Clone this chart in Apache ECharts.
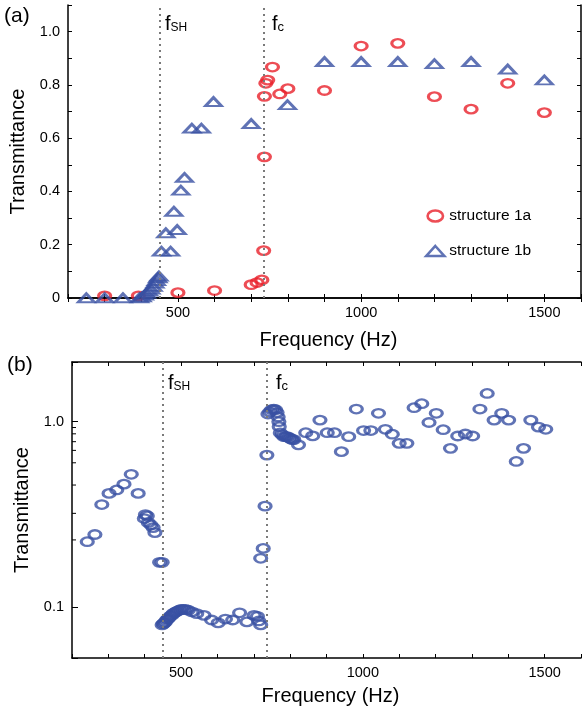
<!DOCTYPE html>
<html><head><meta charset="utf-8">
<script src="https://cdn.jsdelivr.net/npm/echarts@6/dist/echarts.min.js"></script>
<style>html,body{margin:0;padding:0;background:#fff}#c{width:584px;height:710px}</style>
</head><body><div id="c"></div>
<script>
// ---- data ----
const freqA  = [300, 392, 500, 600, 700, 716, 729, 734, 736, 736, 740, 745, 758, 778, 800, 900, 1000, 1100, 1200, 1300, 1400, 1500];
const transA = [0.008, 0.008, 0.02, 0.028, 0.05, 0.058, 0.068, 0.178, 0.53, 0.757, 0.806, 0.818, 0.867, 0.766, 0.786, 0.779, 0.946, 0.956, 0.756, 0.709, 0.806, 0.696];

const freqB  = [250, 300, 350, 395, 402, 408, 414, 420, 426, 432, 437, 441, 445, 448, 455, 480, 467, 498, 489, 508, 518, 538, 564, 597, 700, 799, 900, 1000, 1100, 1200, 1300, 1400, 1500];
const transB = [0, 0, 0, 0, 0.004, 0.01, 0.017, 0.025, 0.033, 0.043, 0.055, 0.065, 0.075, 0.082, 0.175, 0.175, 0.244, 0.256, 0.325, 0.404, 0.452, 0.637, 0.637, 0.737, 0.654, 0.725, 0.887, 0.887, 0.887, 0.879, 0.887, 0.859, 0.818];

const freqLog  = [242, 263, 282, 302, 323, 343, 363, 382, 399, 402, 407, 410, 417, 423, 428, 441, 448,
  448, 451, 454, 457, 460, 463, 466, 470, 474, 478, 482, 486, 490, 495, 500, 506, 512, 520, 530, 543, 563, 584, 602, 622, 642, 661, 681, 701, 710, 714, 719,
  719, 726, 731, 736, 739, 744, 749, 755, 760, 764, 767, 769, 770, 773, 778, 783, 788, 792, 797, 801, 806, 810, 823,
  843, 862, 882, 902, 922, 941, 961, 982, 1002, 1022, 1043, 1062, 1081, 1100, 1121, 1141, 1162, 1182, 1202, 1221, 1241, 1261, 1282, 1302, 1322, 1342, 1361, 1382, 1401, 1422, 1442, 1462, 1483, 1503];
const transLog = [0.225, 0.246, 0.357, 0.41, 0.428, 0.46, 0.52, 0.41, 0.30, 0.315, 0.31, 0.285, 0.277, 0.268, 0.252, 0.174, 0.174,
  0.080, 0.081, 0.082, 0.083, 0.085, 0.086, 0.087, 0.089, 0.090, 0.092, 0.093, 0.094, 0.095, 0.096, 0.097, 0.097, 0.097, 0.096, 0.094, 0.092, 0.090, 0.085, 0.082, 0.086, 0.085, 0.093, 0.083, 0.090, 0.089, 0.084, 0.080,
  0.183, 0.207, 0.35, 0.66, 1.10, 1.13, 1.16, 1.17, 1.16, 1.12, 1.06, 1.00, 0.94, 0.87, 0.85, 0.83, 0.83, 0.83, 0.82, 0.81, 0.80, 0.80, 0.75,
  0.872, 0.838, 1.02, 0.872, 0.872, 0.689, 0.83, 1.17, 0.896, 0.896, 1.11, 0.91, 0.856, 0.764, 0.764, 1.19, 1.25, 0.99, 1.11, 0.905, 0.718, 0.837, 0.858, 0.837, 1.17, 1.42, 1.02, 1.11, 1.02, 0.61, 0.718, 1.02, 0.935, 0.91];

const xTickLabels  = [500, 1000, 1500];
const yTickLabelsA = [0, 0.2, 0.4, 0.6, 0.8, 1.0];
const yTickLabelsB = [0.1, 1.0];
const minorTicksB  = [0.93, 0.86, 0.78, 0.7, 0.6, 0.455, 0.32, 0.23];
const fSH = 450, fC = 735;
const seriesNames = ['structure 1a', 'structure 1b'];

// ---- style ----
const FONT = "'Liberation Sans', Arial, sans-serif";
const RED = '#e8202a', BLUE = '#3850a3';
const axisLineStyle = {show: true, lineStyle: {color: '#000', width: 1.5}};
const tickStyle = {show: true, inside: true, length: 4, lineStyle: {color: '#000', width: 1}};
const xFmt = v => xTickLabels.indexOf(Math.round(v)) >= 0 && Math.abs(v - Math.round(v)) < 1e-6 ? String(Math.round(v)) : '';
const yFmtA = v => {
  const t = yTickLabelsA.find(t => Math.abs(t - v) < 1e-6);
  return t === undefined ? '' : (t === 0 ? '0' : t.toFixed(1));
};
const yFmtB = v => {
  const t = yTickLabelsB.find(t => Math.abs(t - v) < 1e-6);
  return t === undefined ? '' : t.toFixed(1);
};
const labelStyle = {color: '#000', fontSize: 14.5, fontFamily: FONT};
const nameStyle = {color: '#000', fontSize: 20, fontFamily: FONT};
const vLines = {
  silent: true, symbol: 'none', animation: false,
  label: {show: false},
  lineStyle: {type: [2, 4], color: '#7a7a7a', width: 2},
  data: [{xAxis: fSH}, {xAxis: fC}]
};
const CIRCLE_PATH = 'path://M0,5A7,5 0 1,0 14,5A7,5 0 1,0 0,5Z';
const TRI_PATH = 'path://M9,0L18,10L0,10Z';

function xAx(grid, pos, withLabel, gap) {
  return {
    type: 'value', gridIndex: grid, position: pos, min: 200, max: 1600, interval: 100,
    axisLine: axisLineStyle, axisTick: tickStyle, splitLine: {show: false},
    axisLabel: withLabel ? Object.assign({formatter: xFmt, margin: 7}, labelStyle) : {show: false},
    name: withLabel ? 'Frequency (Hz)' : '', nameLocation: 'middle', nameGap: gap || 30,
    nameTextStyle: Object.assign({padding: [0, 0, 0, 8]}, nameStyle)
  };
}
function rich(main, sub, subSize) {
  return {
    text: '{f|' + main + '}{s|' + sub + '}',
    rich: {
      f: {fontSize: 20, lineHeight: 22, fontFamily: FONT, fill: '#000', verticalAlign: 'bottom'},
      s: {fontSize: subSize, lineHeight: subSize + 1, fontFamily: FONT, fill: '#000', verticalAlign: 'bottom'}
    }
  };
}

const chart = echarts.init(document.getElementById('c'), null, {renderer: 'canvas'});
chart.setOption({
  animation: false,
  backgroundColor: '#fff',
  textStyle: {fontFamily: FONT},
  grid: [
    {left: 68, top: 5, width: 515, height: 293},
    {left: 72, top: 362, width: 517, height: 296}
  ],
  xAxis: [xAx(0, 'bottom', true, 32), xAx(0, 'top', false), xAx(1, 'bottom', true, 28), xAx(1, 'top', false)],
  yAxis: [
    {type: 'value', gridIndex: 0, position: 'left', min: 0, max: 1.1, interval: 0.1,
     axisLine: axisLineStyle, axisTick: tickStyle, splitLine: {show: false},
     axisLabel: Object.assign({formatter: yFmtA, margin: 8}, labelStyle),
     name: 'Transmittance', nameLocation: 'middle', nameGap: 29, nameTextStyle: nameStyle},
    {type: 'value', gridIndex: 0, position: 'right', min: 0, max: 1.1, interval: 0.1,
     axisLine: axisLineStyle, axisTick: tickStyle, splitLine: {show: false}, axisLabel: {show: false}},
    {type: 'log', logBase: 10, gridIndex: 1, position: 'left', min: 0.053, max: 2.1,
     axisLine: axisLineStyle, axisTick: Object.assign({}, tickStyle, {length: 6}), splitLine: {show: false},
     axisLabel: Object.assign({formatter: yFmtB, margin: 8}, labelStyle),
     name: 'Transmittance', nameLocation: 'middle', nameGap: 35, nameTextStyle: nameStyle}
  ],
  legend: {
    data: [{name: seriesNames[0], icon: CIRCLE_PATH}, {name: seriesNames[1], icon: TRI_PATH}],
    orient: 'vertical', left: 420, top: 203,
    itemWidth: 18, itemHeight: 11, itemGap: 19,
    itemStyle: {borderWidth: 2.6},
    textStyle: {fontSize: 15.5, color: '#000', fontFamily: FONT}
  },
  series: [
    {name: seriesNames[0], type: 'scatter', xAxisIndex: 0, yAxisIndex: 0,
     data: freqA.map((f, i) => [f, transA[i]]),
     symbol: 'circle', symbolSize: [12, 8.5],
     itemStyle: {color: 'rgba(0,0,0,0)', borderColor: RED, borderWidth: 2.7},
     markLine: vLines},
    {name: seriesNames[1], type: 'scatter', xAxisIndex: 0, yAxisIndex: 0,
     data: freqB.map((f, i) => [f, transB[i]]),
     symbol: 'triangle', symbolSize: [16, 8.5],
     itemStyle: {color: 'rgba(0,0,0,0)', borderColor: BLUE, borderWidth: 2.7}},
    {name: 'log', type: 'scatter', xAxisIndex: 2, yAxisIndex: 2,
     data: freqLog.map((f, i) => [f, transLog[i]]),
     symbol: 'circle', symbolSize: [12, 8.5],
     itemStyle: {color: 'rgba(0,0,0,0)', borderColor: BLUE, borderWidth: 2.7},
     markLine: vLines},
    {name: 'minor', type: 'custom', xAxisIndex: 2, yAxisIndex: 2, silent: true, clip: false,
     data: minorTicksB.map(v => [200, v]),
     renderItem: (params, api) => {
       const p = api.coord([api.value(0), api.value(1)]);
       return {type: 'line', shape: {x1: p[0], y1: p[1], x2: p[0] + 4, y2: p[1]},
               style: {stroke: '#000', lineWidth: 1}};
     }}
  ],
  graphic: [
    {type: 'text', left: 4, top: 6, style: {text: '(a)', fontSize: 21, fontFamily: FONT, fill: '#000'}},
    {type: 'text', left: 7, top: 355, style: {text: '(b)', fontSize: 21, fontFamily: FONT, fill: '#000'}},
    {type: 'text', x: 165, y: 12, style: rich('f', 'SH', 12)},
    {type: 'text', x: 272, y: 12, style: rich('f', 'c', 13)},
    {type: 'text', x: 168, y: 371, style: rich('f', 'SH', 12)},
    {type: 'text', x: 276, y: 371, style: rich('f', 'c', 13)}
  ]
});
</script></body></html>
